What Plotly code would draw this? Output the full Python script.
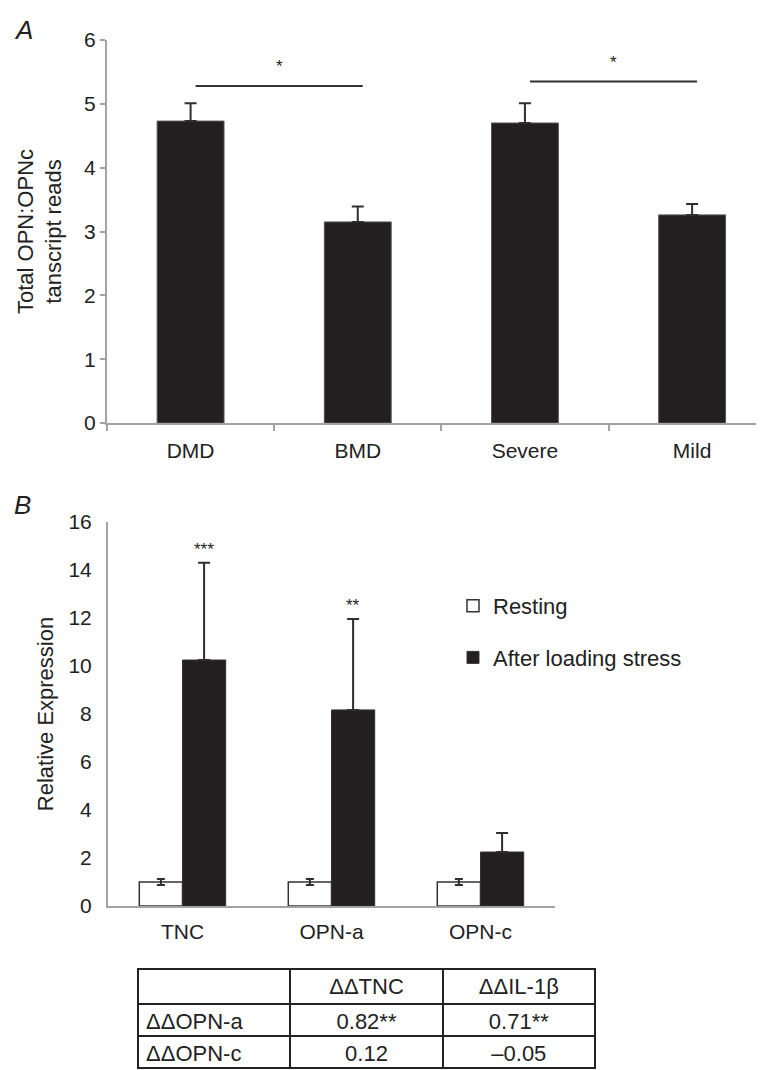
import plotly.graph_objects as go

# page body has an 8px margin; the figure is sized to fit the window
OFF = 8
W, H = 764 - OFF, 1070 - OFF

# ---------- Panel A data ----------
groups_a = ["DMD", "BMD", "Severe", "Mild"]
vals_a = [4.73, 3.15, 4.70, 3.26]
err_a = [0.28, 0.24, 0.31, 0.17]
sig_pairs_a = [(0, 1), (2, 3)]
sig_y_a = [5.28, 5.35]
sig_lbl_a = ["*", "*"]

# ---------- Panel B data ----------
genes_b = ["TNC", "OPN-a", "OPN-c"]
resting = [1.0, 1.0, 1.0]
resting_err = [0.12, 0.12, 0.12]
stress = [10.25, 8.17, 2.25]
stress_err = [4.05, 3.79, 0.79]
stress_sig = ["***", "**", ""]

# ---------- Table data ----------
tbl_header = ["", "ΔΔTNC", "ΔΔIL-1β"]
tbl_rows = ["ΔΔOPN-a", "ΔΔOPN-c"]
tbl_tnc = ["0.82**", "0.12"]
tbl_il1b = ["0.71**", "–0.05"]

FONT = "Liberation Sans, Arial, sans-serif"
BAR = "#231f20"
AX = "#a3a3a3"
ERR = "#2e2e2e"
TXT = "#222222"

def px_x(p):
    return (p - OFF) / W

def px_y(p):
    return 1 - (p - OFF) / H

fig = go.Figure()

# Panel A bars
fig.add_trace(go.Bar(
    x=groups_a, y=vals_a, xaxis="x", yaxis="y",
    marker=dict(color=BAR, line=dict(color="#555555", width=1)),
    error_y=dict(type="data", array=err_a, arrayminus=[0] * len(err_a), symmetric=False,
                 color=ERR, thickness=2, width=6),
    width=0.4, showlegend=False, hoverinfo="skip"))

# Panel B bars
fig.add_trace(go.Bar(
    x=genes_b, y=resting, name="Resting", xaxis="x2", yaxis="y2",
    legendgroup="r",
    marker=dict(color="white", line=dict(color="#333333", width=1.5)),
    error_y=dict(type="data", array=resting_err, color=ERR, thickness=2, width=4)))
fig.add_trace(go.Bar(
    x=genes_b, y=stress, name="After loading stress", xaxis="x2", yaxis="y2",
    legendgroup="s",
    marker=dict(color=BAR, line=dict(color="#333333", width=1)),
    error_y=dict(type="data", array=stress_err, arrayminus=[0] * len(stress_err),
                 symmetric=False, color=ERR, thickness=2, width=6)))

# Table
fig.add_trace(go.Table(
    domain=dict(x=[px_x(138), px_x(595)], y=[0, px_y(969)]),
    columnwidth=[1, 1, 1],
    header=dict(values=tbl_header, height=35, align=["left", "center", "center"],
                fill_color="white", line=dict(color=TXT, width=2),
                font=dict(family=FONT, size=22, color=TXT)),
    cells=dict(values=[tbl_rows, tbl_tnc, tbl_il1b], height=32,
               align=["left", "center", "center"],
               fill_color="white", line=dict(color=TXT, width=2),
               font=dict(family=FONT, size=22, color=TXT))))

shapes = []
annotations = []
for (a, b), yv, lbl in zip(sig_pairs_a, sig_y_a, sig_lbl_a):
    shapes.append(dict(type="line", xref="x", yref="y", x0=a + 0.03, x1=b + 0.03,
                       y0=yv, y1=yv, line=dict(color="#333333", width=2)))
    annotations.append(dict(xref="x", yref="y", x=(a + b) / 2 + 0.03, y=yv + 0.3,
                            text=lbl, showarrow=False,
                            font=dict(family=FONT, size=17, color=TXT)))

bargap_b = 0.42
half = (1 - bargap_b) / 4
for i, (s, e, lbl) in enumerate(zip(stress, stress_err, stress_sig)):
    if lbl:
        annotations.append(dict(xref="x2", yref="y2", x=i + half, y=s + e + 0.55,
                                text=lbl, showarrow=False,
                                font=dict(family=FONT, size=17, color=TXT)))

annotations.append(dict(xref="paper", yref="paper", x=px_x(12), y=px_y(30),
                        text="<i>A</i>", showarrow=False, xanchor="left", yanchor="middle",
                        font=dict(family=FONT, size=26, color=TXT)))
annotations.append(dict(xref="paper", yref="paper", x=px_x(12), y=px_y(505),
                        text="<i>B</i>", showarrow=False, xanchor="left", yanchor="middle",
                        font=dict(family=FONT, size=26, color=TXT)))

fig.update_layout(
    template="none",
    width=W, height=H,
    margin=dict(l=0, r=0, t=0, b=0, pad=0, autoexpand=False),
    paper_bgcolor="white", plot_bgcolor="white",
    font=dict(family=FONT, size=21, color=TXT),
    barmode="group", bargap=bargap_b, bargroupgap=0,
    shapes=shapes, annotations=annotations,
    xaxis=dict(domain=[px_x(107), 1], anchor="y", range=[-0.5, 3.43],
               automargin=False,
               showline=True, linecolor=AX, linewidth=2,
               ticks="outside", tickson="boundaries", ticklen=6, tickcolor=AX, tickwidth=2,
               ticklabelstandoff=8, tickfont=dict(size=21),
               showgrid=False, zeroline=False),
    yaxis=dict(domain=[px_y(423), px_y(40)], anchor="x", range=[0, 6],
               automargin=False,
               dtick=1, showline=True, linecolor=AX, linewidth=2,
               ticks="outside", ticklen=5, tickcolor=AX, tickwidth=2,
               tickfont=dict(size=21), showgrid=False, zeroline=False,
               title=dict(text="Total OPN:OPNc<br>tanscript reads", standoff=16,
                          font=dict(size=22))),
    xaxis2=dict(domain=[px_x(108), px_x(555)], anchor="y2", range=[-0.5, 2.5],
                automargin=False,
                showline=True, linecolor=AX, linewidth=2, ticks="",
                ticklabelstandoff=6, tickfont=dict(size=21),
                showgrid=False, zeroline=False),
    yaxis2=dict(domain=[px_y(906), px_y(522)], anchor="x2", range=[0, 16],
                automargin=False,
                dtick=2, showline=True, linecolor=AX, linewidth=2, ticks="",
                ticklabelstandoff=10, tickfont=dict(size=21),
                showgrid=False, zeroline=False,
                title=dict(text="Relative Expression", standoff=9, font=dict(size=22))),
    legend=dict(x=px_x(453), y=px_y(585), xanchor="left", yanchor="top",
                bgcolor="rgba(0,0,0,0)", borderwidth=0, font=dict(size=22),
                tracegroupgap=20, traceorder="grouped"),
)

fig.write_html("out.html")
